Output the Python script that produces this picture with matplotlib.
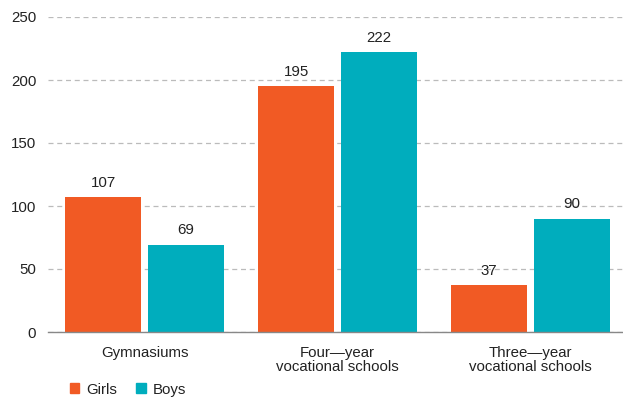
import matplotlib
matplotlib.use("Agg")
import matplotlib.pyplot as plt
import numpy as np
from matplotlib.patches import Patch

categories = ["Gymnasiums", "Four\u2014year\nvocational schools", "Three\u2014year\nvocational schools"]
girls = [107, 195, 37]
boys = [69, 222, 90]
yticks = [0, 50, 100, 150, 200, 250]

plt.rcParams['font.family'] = ['Liberation Sans', 'DejaVu Sans']
c_girls = "#F15A24"
c_boys = "#00ADBD"
tc = "#222222"
fs = 10.8

fig = plt.figure(figsize=(6.23, 3.97), dpi=100)
ax = fig.add_axes([48/623, 1-332/397, 579/623, 315/397])
x = np.arange(len(categories))
w = 0.39
off = 0.215
b1 = ax.bar(x - off, girls, w, color=c_girls, zorder=3)
b2 = ax.bar(x + off, boys, w, color=c_boys, zorder=3)
for rects, vals in ((b1, girls), (b2, boys)):
    for r, v in zip(rects, vals):
        ax.text(r.get_x() + r.get_width()/2, v + 6, str(v), ha="center", va="bottom",
                fontsize=fs, color=tc)
ax.set_xlim(-0.5, 2.5)
ax.set_ylim(0, 250)
ax.set_yticks(yticks)
ax.set_yticklabels([str(t) for t in yticks], fontsize=fs, color=tc)
ax.yaxis.grid(True, linestyle=(0, (4, 3)), color="#bbbbbb", linewidth=0.9, zorder=0)
ax.set_axisbelow(True)
ax.tick_params(axis="y", length=0, pad=8.5)
ax.tick_params(axis="x", length=0, pad=10)
ax.set_xticks(x)
ax.set_xticklabels(categories, fontsize=fs, color=tc, linespacing=1.05)
for s in ("top", "right", "left"):
    ax.spines[s].set_visible(False)
ax.spines["bottom"].set_color("#888888")
ax.spines["bottom"].set_linewidth(1.0)
ax.spines["bottom"].set_zorder(4)

handles = [Patch(color=c_girls, label="Girls"), Patch(color=c_boys, label="Boys")]
fig.legend(handles=handles, loc="lower left", bbox_to_anchor=(56/623, -0.033), ncol=2,
           frameon=False, fontsize=fs, handlelength=0.65, handleheight=0.65,
           handletextpad=0.45, columnspacing=1.3, labelcolor=tc)
fig.savefig("out.png", dpi=100)
